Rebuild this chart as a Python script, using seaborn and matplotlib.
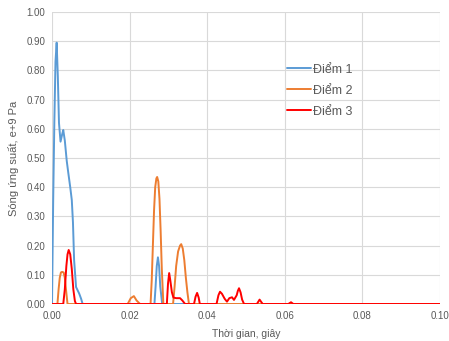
import matplotlib
matplotlib.use("Agg")
import matplotlib.pyplot as plt
import seaborn as sns
import pandas as pd

# ---- data ----
t1 = [0, 0.0003, 0.0006, 0.0009, 0.0012, 0.0015, 0.0018, 0.0022, 0.0026, 0.0029, 0.0033, 0.0038, 0.0042,
      0.0047, 0.0051, 0.0054, 0.0057, 0.0062, 0.0070, 0.0075, 0.0079,
      0.0264, 0.0267, 0.0270, 0.0273, 0.0276, 0.0279, 0.0284, 0.1]
v1 = [0, 0.35, 0.62, 0.83, 0.895, 0.78, 0.62, 0.556, 0.58, 0.596, 0.56, 0.49, 0.449,
      0.40, 0.356, 0.28, 0.15, 0.058, 0.036, 0.018, 0,
      0, 0.06, 0.13, 0.16, 0.13, 0.06, 0, 0]

t2 = [0, 0.0014, 0.0017, 0.0020, 0.0023, 0.0026, 0.0030, 0.0033, 0.0036, 0.0040,
      0.0195, 0.0203, 0.0211, 0.0218, 0.0227,
      0.0254, 0.0257, 0.0260, 0.0263, 0.0266, 0.0269, 0.0271, 0.0274, 0.0277, 0.0280, 0.0283, 0.0287,
      0.0312, 0.0316, 0.0320, 0.0325, 0.0330, 0.0333, 0.0337, 0.0341, 0.0345, 0.0349, 0.0353, 0.1]
v2 = [0, 0, 0.05, 0.09, 0.108, 0.11, 0.108, 0.09, 0.05, 0,
      0, 0.02, 0.027, 0.012, 0,
      0, 0.08, 0.20, 0.32, 0.40, 0.43, 0.435, 0.42, 0.36, 0.25, 0.12, 0,
      0, 0.06, 0.13, 0.18, 0.20, 0.205, 0.19, 0.15, 0.09, 0.04, 0, 0]

t3 = [0, 0.0029, 0.0033, 0.0037, 0.0040, 0.0043, 0.0047, 0.0051, 0.0055, 0.0059, 0.0062,
      0.0296, 0.0299, 0.0302, 0.0305, 0.0309, 0.0313, 0.0320, 0.0330, 0.0336, 0.0343,
      0.0366, 0.0370, 0.0374, 0.0378, 0.0381,
      0.0424, 0.0429, 0.0433, 0.0438, 0.0445, 0.0451, 0.0457, 0.0464, 0.0469, 0.0476,
      0.0479, 0.0482, 0.0486, 0.0490, 0.0495,
      0.0528, 0.0535, 0.0543,
      0.0609, 0.0616, 0.0622, 0.1]
v3 = [0, 0, 0.05, 0.13, 0.17, 0.185, 0.17, 0.12, 0.05, 0.01, 0,
      0, 0.07, 0.106, 0.08, 0.04, 0.022, 0.02, 0.02, 0.012, 0,
      0, 0.025, 0.038, 0.022, 0,
      0, 0.03, 0.042, 0.035, 0.018, 0.008, 0.02, 0.023, 0.014, 0.03,
      0.045, 0.054, 0.04, 0.015, 0,
      0, 0.015, 0,
      0, 0.006, 0, 0]

names = ["Điểm 1", "Điểm 2", "Điểm 3"]
colors = ["#5B9BD5", "#ED7D31", "#FF0000"]

xticks = [0.00, 0.02, 0.04, 0.06, 0.08, 0.10]
yticks = [i / 10 for i in range(11)]

df = pd.concat([
    pd.DataFrame({"t": t1, "v": v1, "s": names[0]}),
    pd.DataFrame({"t": t2, "v": v2, "s": names[1]}),
    pd.DataFrame({"t": t3, "v": v3, "s": names[2]}),
], ignore_index=True)

sns.set_theme(style="white")
plt.rcParams['font.family'] = ['Liberation Sans', 'DejaVu Sans']

fig = plt.figure(figsize=(4.49, 3.41), dpi=100)
ax = fig.add_axes([52 / 449, 37 / 341, 388 / 449, 292 / 341])

sns.lineplot(data=df, x="t", y="v", hue="s", palette=colors, sort=False,
             estimator=None, linewidth=1.4, ax=ax)

ax.set_xlim(0, 0.1)
ax.set_ylim(0, 1.0)
ax.set_xticks(xticks)
ax.set_xticklabels([f"{x:.2f}" for x in xticks])
ax.set_yticks(yticks)
ax.set_yticklabels([f"{y:.2f}" for y in yticks])
ax.grid(True, color="#D9D9D9", linewidth=0.8)
ax.set_axisbelow(True)
for sp in ax.spines.values():
    sp.set_visible(False)
ax.tick_params(axis="both", length=0, labelsize=7, colors="#595959", pad=5)
ax.set_xlabel("Thời gian, giây", fontsize=7.5, color="#595959", labelpad=6)
ax.set_ylabel("Sóng ứng suất, e+9 Pa", fontsize=8, color="#595959", labelpad=5)

leg = ax.legend(loc="upper left", bbox_to_anchor=(0.606, 0.823), frameon=False,
                fontsize=9, handlelength=1.9, handletextpad=0.15, labelspacing=0.72,
                borderpad=0, borderaxespad=0)
for txt in leg.get_texts():
    txt.set_color("#595959")

fig.savefig("out.png", dpi=100)
